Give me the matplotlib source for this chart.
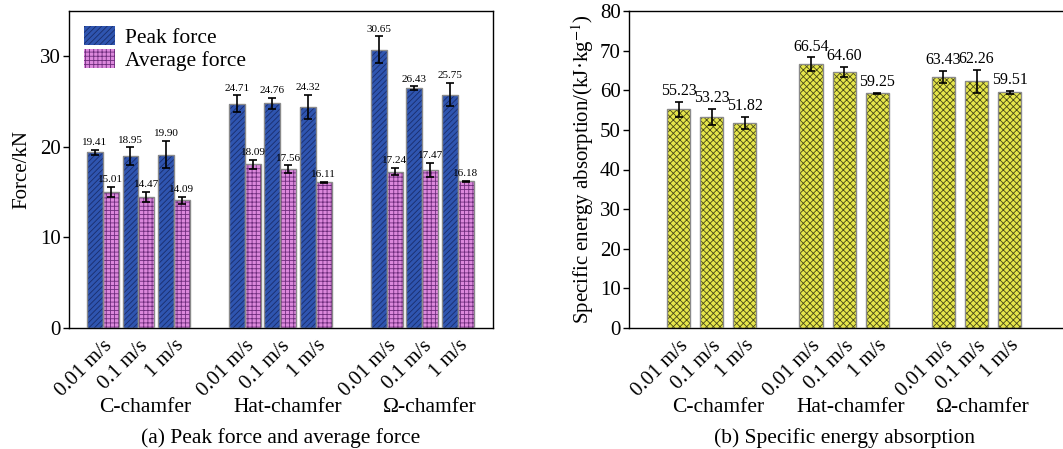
import matplotlib
matplotlib.use("Agg")
import matplotlib.pyplot as plt
import matplotlib.transforms as mtrans
from matplotlib.patches import Patch

plt.rcParams['font.family'] = ['Liberation Serif', 'DejaVu Serif']
plt.rcParams['mathtext.fontset'] = 'stix'
plt.rcParams['hatch.linewidth'] = 0.6

speeds = ["0.01 m/s", "0.1 m/s", "1 m/s"]
groups = ["C-chamfer", "Hat-chamfer", "\u03a9-chamfer"]

peak = [19.41, 18.95, 19.15, 24.75, 24.80, 24.38, 30.70, 26.45, 25.78]
peak_err = [0.29, 1.00, 1.49, 0.94, 0.59, 1.34, 1.49, 0.22, 1.27]
peak_lbl = ["19.41", "18.95", "19.90", "24.71", "24.76", "24.32", "30.65", "26.43", "25.75"]

avg = [15.01, 14.47, 14.09, 18.09, 17.56, 16.11, 17.24, 17.47, 16.18]
avg_err = [0.53, 0.59, 0.40, 0.50, 0.40, 0.05, 0.40, 0.80, 0.07]
avg_lbl = ["15.01", "14.47", "14.09", "18.09", "17.56", "16.11", "17.24", "17.47", "16.18"]

sea = [55.23, 53.23, 51.82, 66.54, 64.60, 59.25, 63.43, 62.26, 59.51]
sea_err = [1.93, 2.10, 1.50, 1.76, 1.26, 0.15, 1.55, 2.90, 0.38]

pos = [0, 1, 2, 4, 5, 6, 8, 9, 10]

W, H = 1063, 449
fig = plt.figure(figsize=(W / 100, H / 100), dpi=100)

def px_axes(x0, x1, ytop, ybot):
    return fig.add_axes([x0 / W, (H - ybot) / H, (x1 - x0) / W, (ybot - ytop) / H])

ax1 = px_axes(69, 493, 11, 328)
ax2 = px_axes(629, 1066, 11, 328)

def hbar(ax, x, h, w, face, hcol, hatch):
    ax.bar(x, h, w, color=face, edgecolor=hcol, hatch=hatch, linewidth=0, zorder=2)
    ax.bar(x, h, w, color='none', edgecolor='#8a8a8a', linewidth=1.0, zorder=3)

PINK, PINK_H = '#dc88dc', '#6e2c7c'
BLUE, BLUE_H = '#2f55b0', '#1a2d6b'

bw = 0.45
xp = [p - bw / 2 for p in pos]
xa = [p + bw / 2 for p in pos]
hbar(ax1, xp, peak, bw, BLUE, BLUE_H, '//////')
hbar(ax1, xa, avg, bw, PINK, PINK_H, '++++')
ekw = dict(fmt='none', ecolor='black', elinewidth=1.2, capsize=3, capthick=1.2, zorder=4)
ax1.errorbar(xp, peak, yerr=peak_err, **ekw)
ax1.errorbar(xa, avg, yerr=avg_err, **ekw)
for x, v, e, s in zip(xp, peak, peak_err, peak_lbl):
    ax1.annotate(s, (x, v + e), xytext=(0, 2), textcoords='offset points',
                 ha='center', va='bottom', fontsize=8)
for x, v, e, s in zip(xa, avg, avg_err, avg_lbl):
    ax1.annotate(s, (x, v + e), xytext=(0, 2), textcoords='offset points',
                 ha='center', va='bottom', fontsize=8)

ax1.set_xlim(-0.958, 10.99)
ax1.set_ylim(0, 35)
ax1.set_yticks([0, 10, 20, 30])
ax1.set_ylabel("Force/kN", fontsize=15, labelpad=6)
leg = ax1.legend(handles=[
    Patch(facecolor=BLUE, edgecolor=BLUE_H, hatch='//////', linewidth=0),
    Patch(facecolor=PINK, edgecolor=PINK_H, hatch='++++', linewidth=0)],
    labels=["Peak force", "Average force"], loc='upper left', frameon=False,
    fontsize=15.5, handlelength=1.45, handleheight=1.0, labelspacing=0.05,
    borderaxespad=0.3, handletextpad=0.45, bbox_to_anchor=(0.0, 1.0))

bw2 = 0.7
hbar(ax2, pos, sea, bw2, '#e6e64a', '#4a4a18', 'xxxxx')
ax2.errorbar(pos, sea, yerr=sea_err, **ekw)
for x, v, e in zip(pos, sea, sea_err):
    ax2.annotate(f"{v:.2f}", (x, v + e), xytext=(0, 2), textcoords='offset points',
                 ha='center', va='bottom', fontsize=11.5)
ax2.set_xlim(-1.495, 11.7)
ax2.set_ylim(0, 80)
ax2.set_yticks(range(0, 81, 10))
ax2.set_ylabel("Specific energy absorption/(kJ\u00b7kg$^{-1}$)", fontsize=15, labelpad=3)
ax2.spines['right'].set_visible(False)

for ax, cap, shift in [(ax1, "(a) Peak force and average force", 0.2),
                       (ax2, "(b) Specific energy absorption", 0.2)]:
    ax.set_xticks(pos)
    ax.set_xticklabels(speeds * 3, rotation=45, ha='right', rotation_mode='anchor',
                       fontsize=15)
    ax.tick_params(axis='x', length=0, pad=6)
    ax.tick_params(axis='y', direction='out', length=4, width=1, labelsize=15, pad=2)
    for sp in ax.spines.values():
        sp.set_linewidth(1.0)
    tr = mtrans.blended_transform_factory(ax.transData, fig.transFigure)
    for g, c in zip(groups, [1, 5, 9]):
        ax.text(c + shift, (H - 408) / H, g, transform=tr, ha='center', va='center', fontsize=15.5)
    ax.text(5, (H - 438) / H, cap, transform=tr, ha='center', va='center', fontsize=15.5)

fig.savefig("out.png", dpi=100)
